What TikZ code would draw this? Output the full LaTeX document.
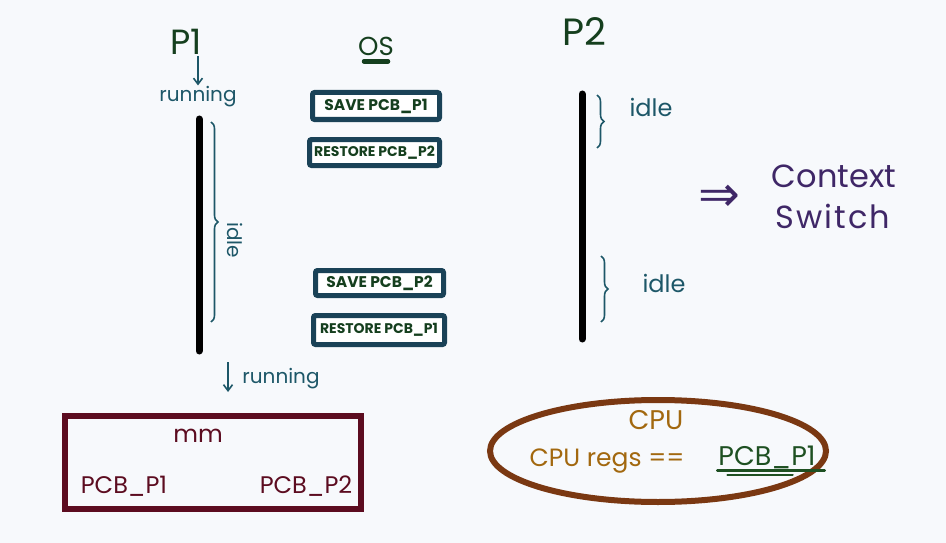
\documentclass[tikz,border=0pt]{standalone}
\usepackage{fontspec}
\setmainfont{Poppins}
\newfontfamily\symfont{DejaVu Sans}
\usetikzlibrary{decorations.pathreplacing,arrows.meta,shapes.geometric}

\definecolor{paper}{HTML}{F7F9FC}
\definecolor{ink}{HTML}{153F1E}
\definecolor{tealink}{HTML}{1D5768}
\definecolor{boxline}{HTML}{1A4257}
\definecolor{violet}{HTML}{3F2767}
\definecolor{maroon}{HTML}{5C0C20}
\definecolor{rust}{HTML}{7A3812}
\definecolor{ochre}{HTML}{A2680F}
\definecolor{leaf}{HTML}{1E5022}

\tikzstyle{hand} = [inner sep=1pt]
\tikzstyle{opbox} = [rectangle, draw=boxline, fill=white, line width=5pt, rounded corners=2pt, text=ink, inner sep=1pt]
\tikzstyle{timeline} = [line width=7pt, line cap=round, black]
\tikzstyle{brc} = [decorate, decoration={brace, amplitude=7pt}, draw=tealink, line width=1.6pt]
\tikzstyle{arr} = [draw=tealink, line width=1.6pt, -{Straight Barb[length=6pt, width=9pt]}]

\begin{document}
\begin{tikzpicture}[x=1pt, y=-1pt, auto]
\fill [paper] (0,0) rectangle (946,543);
\useasboundingbox (0,0) rectangle (946,543);

% process P1
\node [hand, text=ink, font=\fontsize{35}{35}\selectfont] (P1) at (186,42) {P1};
\node [hand, text=tealink, font=\fontsize{20}{20}\selectfont] (run1) at (198,97) {running};
\draw [arr] (P1.south -| run1.north) -- (run1.north);
\coordinate (p1top) at (199,119);
\coordinate (p1bot) at (199,351);
\draw [timeline] (p1top) -- (p1bot);
\coordinate (b1s) at (211,122);
\coordinate (b1e) at (211,322);
\draw [brc] (b1s) -- (b1e);
\node [hand, text=tealink, rotate=-90, font=\fontsize{20}{20}\selectfont] (idle1) at (235,240) {idle};
\coordinate (run2arr) at (228,362);
\node [hand, text=tealink, font=\fontsize{20}{20}\selectfont] (run2) at (281,379) {running};
\draw [arr] (run2arr) -- ++(0,30);

% OS
\node [hand, text=ink, font=\fontsize{26}{26}\selectfont] (OS) at (376,46) {OS};
\draw [ink, line width=4.5pt, line cap=round] ([xshift=-12pt, yshift=-5pt]OS.south) -- ([xshift=12pt, yshift=-5pt]OS.south);
\node [opbox, font=\fontsize{15.5}{16}\selectfont\bfseries, minimum width=127pt, minimum height=27pt] (saveP1) at (376,106) {SAVE PCB\_P1};
\node [opbox, font=\fontsize{14}{15}\selectfont\bfseries, minimum width=130pt, minimum height=26pt] (restP2) at (374.5,152.5) {RESTORE PCB\_P2};
\node [opbox, font=\fontsize{15.5}{16}\selectfont\bfseries, minimum width=128pt, minimum height=25pt] (saveP2) at (379.5,283) {SAVE PCB\_P2};
\node [opbox, font=\fontsize{14}{15}\selectfont\bfseries, minimum width=131pt, minimum height=29pt] (restP1) at (379,330) {RESTORE PCB\_P1};

% process P2
\node [hand, text=ink, font=\fontsize{38}{38}\selectfont] (P2) at (584,32) {P2};
\coordinate (p2top) at (582,94);
\coordinate (p2bot) at (582,339);
\draw [timeline] (p2top) -- (p2bot);
\coordinate (b2s) at (597,95);
\coordinate (b2e) at (597,148);
\draw [brc] (b2s) -- (b2e);
\node [hand, text=tealink, font=\fontsize{24}{24}\selectfont] (idle2) at (651,107) {idle};
\coordinate (b3s) at (601,256);
\coordinate (b3e) at (601,322);
\draw [brc] (b3s) -- (b3e);
\node [hand, text=tealink, font=\fontsize{24}{24}\selectfont] (idle3) at (664,283) {idle};

% context switch
\node [hand, text=violet, font=\symfont\fontsize{50}{50}\selectfont] (impl) at (719,198) {⇒};
\node [hand, text=violet, font=\fontsize{32}{32}\selectfont] (ctx) at (834,176) {Context};
\node [hand, text=violet, font=\fontsize{32}{32}\selectfont\addfontfeature{LetterSpace=6}] (swt) at (833,216) {Switch};

% memory
\node [rectangle, draw=maroon, line width=6pt, minimum width=296pt, minimum height=93pt] (mmbox) at (213,462.5) {};
\node [hand, text=maroon, font=\fontsize{24}{24}\selectfont] (mm) at (198,436) {mm};
\node [hand, text=maroon, font=\fontsize{24}{24}\selectfont] (pcbA) at (124,486) {PCB\_P1};
\node [hand, text=maroon, font=\fontsize{24}{24}\selectfont] (pcbB) at (306,486) {PCB\_P2};

% cpu
\node [ellipse, draw=rust, line width=6pt, minimum width=336pt, minimum height=102pt] (cpu) at (658,451) {};
\node [hand, text=ochre, font=\fontsize{27}{27}\selectfont] (cpulab) at (656,420) {CPU};
\node [hand, text=ochre, font=\fontsize{25}{25}\selectfont] (regs) at (607,461) {CPU regs ==};
\node [hand, text=leaf, font=\fontsize{27}{27}\selectfont] (cpupcb) at (767,457) {PCB\_P1};
\draw [leaf, line width=2.5pt, line cap=round] ([yshift=-1pt]cpupcb.south west) -- ([xshift=8pt, yshift=-1pt]cpupcb.south east);
\draw [leaf, line width=2pt, line cap=round] ([xshift=10pt, yshift=-5pt]cpupcb.south west) -- ([xshift=-24pt, yshift=-5pt]cpupcb.south east);
\end{tikzpicture}
\end{document}
